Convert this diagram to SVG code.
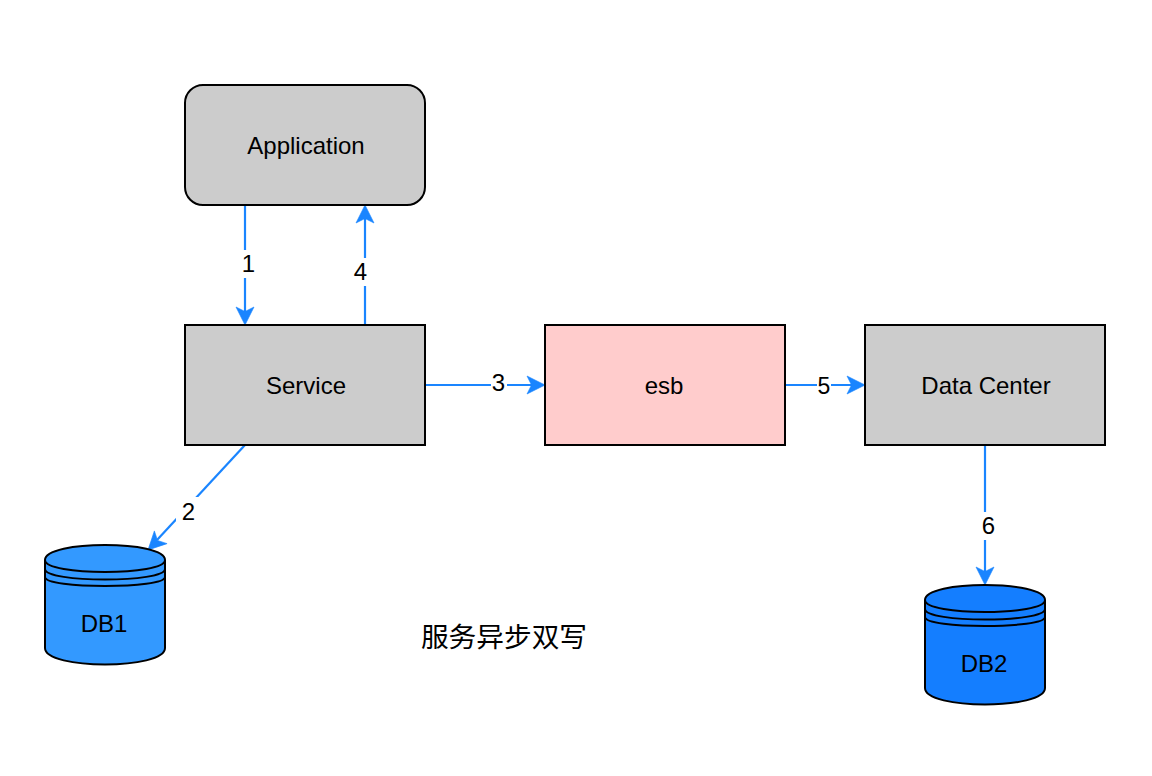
<svg xmlns="http://www.w3.org/2000/svg" width="1152" height="776" viewBox="0 0 1152 776">
<style>
text{font-family:"Liberation Sans",Arial,"Noto Sans CJK SC",sans-serif;font-size:24px;fill:#000;text-anchor:middle}
.box{stroke:#000;stroke-width:2}
.grey{fill:#ccc}
.line{fill:none;stroke:#1a85ff;stroke-width:2.2}
.cyl{stroke:#000;stroke-width:2;stroke-linejoin:round}
.rim{fill:none;stroke:#000;stroke-width:2}
.lab{fill:#fff}
.arrow{fill:#1a85ff;stroke:#1a85ff;stroke-width:.6}
.small{font-size:23px}
.cap{font-size:27.700px}
</style>
<defs>
<path id="head" class="arrow" d="M0 0L-18 -9L-13.500 0L-18 9Z"/>
<g id="rims">
<path class="rim" d="M0 15C0 31 120 31 120 15"/>
<path class="rim" d="M0 24C0 38 120 38 120 24"/>
<path class="rim" d="M0 32C0 44 120 44 120 32"/>
</g>
<path id="body" class="cyl" d="M0 15C0 -5 120 -5 120 15V103C120 125 0 125 0 103Z"/>
</defs>
<g id="connectors">
<path class="line" d="M245 205V312"/>
<use href="#head" transform="translate(245 325) rotate(90)"/>
<path class="lab" d="M234 250h22v28h-22z"/>
<path class="line" d="M365 325V218"/>
<use href="#head" transform="translate(365 205) rotate(-90)"/>
<path class="lab" d="M352 258h26v28h-26z"/>
<path class="line" d="M245 445L157 540"/>
<use href="#head" transform="translate(148 550) rotate(135)"/>
<path class="lab" d="M176 497h26v28h-26z"/>
<path class="line" d="M425 385H532"/>
<use href="#head" transform="translate(545 385)"/>
<path class="lab" d="M491 372h16v26h-16z"/>
<path class="line" d="M785 385H852"/>
<use href="#head" transform="translate(865 385)"/>
<path class="lab" d="M817 372h14v26h-14z"/>
<path class="line" d="M985 445V572"/>
<use href="#head" transform="translate(985 585) rotate(90)"/>
<path class="lab" d="M975 512h22v28h-22z"/>
<g>
<text x="248.500" y="272">1</text>
<text x="360.500" y="280">4</text>
<text x="188.500" y="520">2</text>
<text x="498.500" y="391">3</text>
<text class="small" x="824" y="394">5</text>
<text x="988.500" y="534">6</text>
</g>
</g>
<g id="application">
<rect class="box grey" x="185" y="85" width="240" height="120" rx="18" ry="18"/>
<text x="306" y="154">Application</text>
</g>
<g id="service">
<rect class="box grey" x="185" y="325" width="240" height="120"/>
<text x="306" y="394">Service</text>
</g>
<g id="esb">
<rect class="box" fill="#ffcccc" x="545" y="325" width="240" height="120"/>
<text x="664" y="394">esb</text>
</g>
<g id="data-center">
<rect class="box grey" x="865" y="325" width="240" height="120"/>
<text x="986" y="394">Data Center</text>
</g>
<g id="db1">
<g transform="translate(45 545)"><use href="#body" fill="#3399ff"/><use href="#rims"/></g>
<text x="104" y="632">DB1</text>
</g>
<g id="db2">
<g transform="translate(925 585)"><use href="#body" fill="#147eff"/><use href="#rims"/></g>
<text x="984" y="672">DB2</text>
</g>
<g id="caption">
<text class="cap" x="504" y="647">服务异步双写</text>
</g>
</svg>
